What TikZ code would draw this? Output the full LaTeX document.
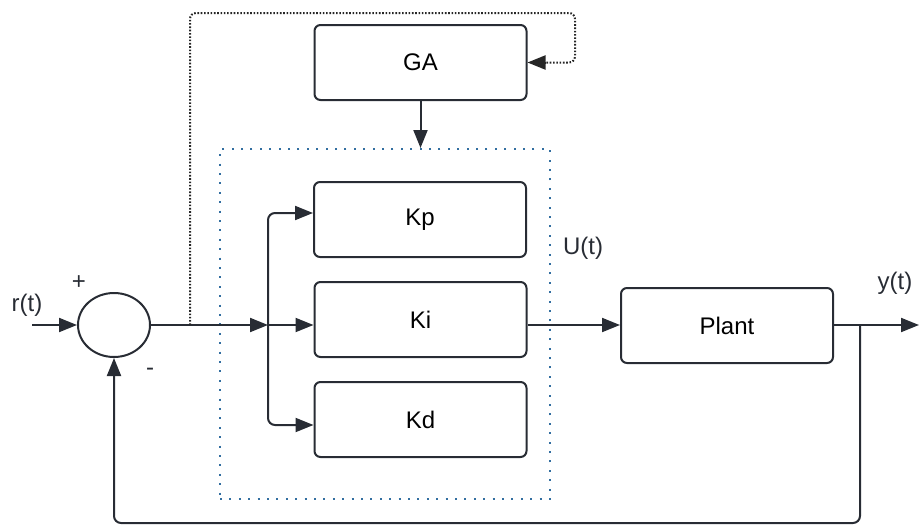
\documentclass[tikz,border=0pt]{standalone}
\usepackage{fontspec}
\setmainfont{Liberation Sans}
\usetikzlibrary{arrows.meta,shapes.geometric}
\definecolor{ink}{RGB}{40,44,52}
\definecolor{dotblue}{RGB}{50,110,160}
\tikzset{
  blk/.style={draw=ink, line width=2pt, rounded corners=6pt, minimum width=212pt, minimum height=75pt, inner sep=0pt, font=\fontsize{24}{28}\selectfont},
  lbl/.style={inner sep=0pt, font=\fontsize{24}{28}\selectfont, text=ink},
  arr/.style={draw=ink, line width=2pt, -{Triangle[length=18pt,width=14pt]}},
  gdot/.style={draw=black!85, line width=2pt, dash pattern=on 1.6pt off 1.7pt},
  bdot/.style={draw=dotblue, line width=2pt, dash pattern=on 2pt off 7.4pt},
}
\begin{document}
\begin{tikzpicture}[x=1pt,y=-1pt]
\useasboundingbox (0,0) rectangle (919,525);
% blocks
\node[blk] (GA) at (420.5,62.5) {GA};
\node[bdot, minimum width=330pt, minimum height=350pt, inner sep=0pt] (ctrl) at (385,324) {};
\node[blk] (Kp) at (420,219.5) {Kp};
\node[blk] (Ki) at (420.5,319.5) {Ki};
\node[blk] (Kd) at (420.5,419.5) {Kd};
\node[blk] (Plant) at (727,325.5) {Plant};
\node[draw=ink, line width=2pt, ellipse, minimum width=72pt, minimum height=64pt, inner sep=0pt] (sum) at (114,325) {};
% labels
\node[lbl] (rt) at (27,305) {r(t)};
\node[lbl] (plus) at (79,283) {+};
\node[lbl] (minus) at (150,372) {-};
\node[lbl] (Ut) at (583,248) {U(t)};
\node[lbl] (yt) at (895,283) {y(t)};
% coordinates
\coordinate (rin) at (32,325);
\coordinate (tap) at (190,325);
\coordinate (tr) at (575,13);
\coordinate (split) at (268,325);
\coordinate (out) at (919,325);
\coordinate (branch) at (860,325);
\coordinate (bot) at (860,523);
% connectors
\draw[arr] (rin) -- (sum.west);
\draw[arr] (sum.east) -- (split);
\draw[arr] (split) -- (split -| Ki.west);
\draw[arr, rounded corners=7pt] (split) |- ([yshift=6.5pt]Kp.west);
\draw[arr, rounded corners=7pt] (split) |- ([yshift=-5.5pt]Kd.west);
\draw[arr] (GA.south) -- (GA.south |- ctrl.north);
\draw[gdot, rounded corners=6pt] (tap) |- (tr) |- ([xshift=18pt]GA.east);
\draw[draw=black!85, line width=2pt, -{Triangle[length=18pt,width=14pt]}] ([xshift=18pt]GA.east) -- (GA.east);
\draw[arr] (split -| Ki.east) -- (split -| Plant.west);
\draw[arr] (split -| Plant.east) -- (out);
\draw[arr, rounded corners=7pt] (branch) -- (bot) -| (sum.south);
\end{tikzpicture}
\end{document}
